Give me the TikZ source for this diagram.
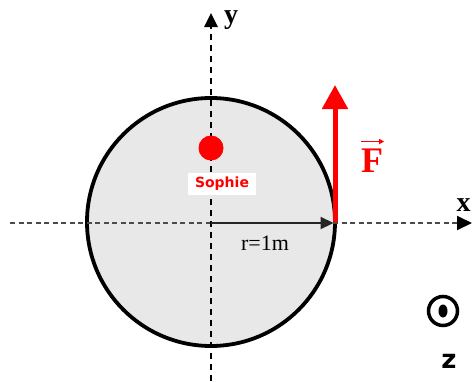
\documentclass[tikz,border=0pt]{standalone}
\usepackage{fontspec}
\setmainfont{Liberation Serif}
\newfontfamily\labelsans{DejaVu Sans}
\usetikzlibrary{arrows.meta,shapes.geometric}
\definecolor{fillgray}{HTML}{E8E8E8}
\definecolor{axisgray}{HTML}{4A4A4A}
\definecolor{fred}{HTML}{FF0000}
\begin{document}
\begin{tikzpicture}[x=1pt,y=-1pt,
  xaxis/.style={axisgray, line width=2pt, dash pattern=on 5pt off 3.5pt},
  yaxis/.style={black, line width=2.6pt, dash pattern=on 6pt off 5pt},
  disk/.style={circle, draw=black, line width=3.8pt, fill=fillgray, minimum size=248pt, inner sep=0pt},
  serifbold/.style={font=\bfseries\fontsize{28}{28}\selectfont, inner sep=0pt},
]
\useasboundingbox (0,0) rectangle (472,381);
% disk
\node[disk] (disk) at (211,222) {};
\coordinate (O) at (211,223);
\coordinate (R) at (333.5,223);
% axes
\coordinate (xl) at (10,223);
\coordinate (xr) at (472,223);
\coordinate (yb) at (211,381);
\coordinate (yt) at (211,13);
\draw[xaxis, -{Triangle[length=15pt,width=14pt,fill=black,color=black]}] (xl) -- (xr);
\draw[yaxis, -{Triangle[length=14pt,width=13pt]}] (yb) -- (yt);
% radius
\draw[black!85, line width=2.2pt, -{Triangle[length=13pt,width=12pt]}] (O) -- (R);
\node[font=\fontsize{22}{22}\selectfont, inner sep=0pt] (rlab) at (265,243) {r=1m};
% force
\coordinate (Fbase) at (335,222);
\coordinate (Ftip) at (335,85);
\draw[fred, line width=5pt, -{Triangle[length=24pt,width=25pt]}] (Fbase) -- (Ftip);
\node[fred, font=\bfseries\fontsize{36}{36}\selectfont, inner sep=0pt] (F) at (372,160.5) {F};
\draw[fred, line width=1.5pt, -{Triangle[length=5pt,width=5pt]}] ([yshift=7pt]F.north west) -- ([yshift=7pt,xshift=1pt]F.north east);
% axis labels
\node[serifbold] (ylab) at (231,20) {y};
\node[serifbold] (xlab) at (463.5,205) {x};
% Sophie
\node[circle, fill=fred, minimum size=25pt, inner sep=0pt] (dot) at (211,148) {};
\node[fill=white, text=fred, font=\labelsans\bfseries\fontsize{14}{16}\selectfont, minimum width=68pt, minimum height=22pt, inner sep=0pt] (sophie) at (222,184) {Sophie};
% z axis symbol
\node[circle, draw=black, line width=3.5pt, minimum size=29pt, inner sep=0pt] (zsym) at (443,311) {};
\node[ellipse, fill=black, minimum width=9pt, minimum height=13pt, inner sep=0pt] (zdot) at (zsym.center) {};
\node[font=\labelsans\bfseries\fontsize{26}{26}\selectfont, inner sep=0pt] (zlab) at (449,361) {z};
\end{tikzpicture}
\end{document}
